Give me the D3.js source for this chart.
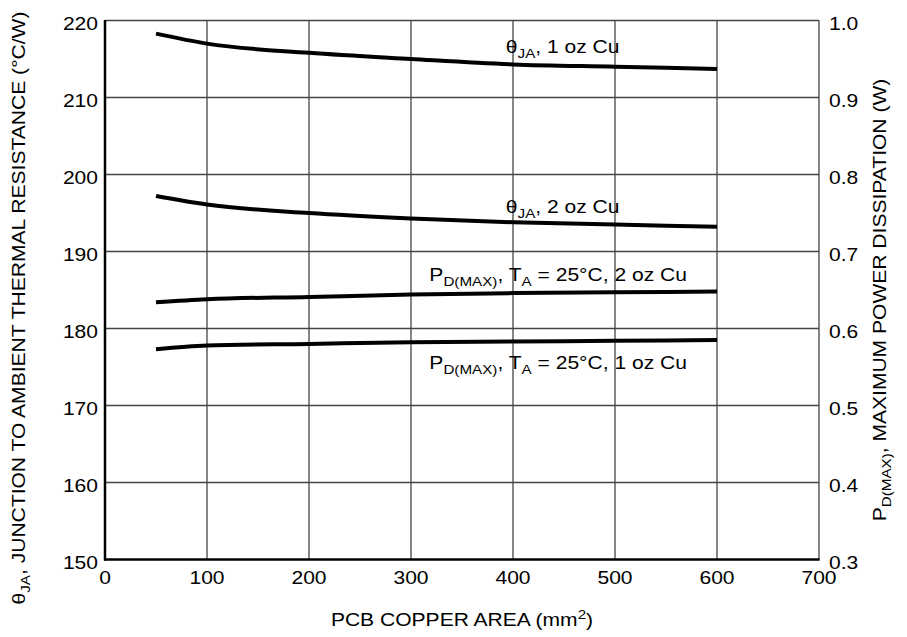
<!DOCTYPE html>
<html lang="en">
<head>
    <meta charset="UTF-8">
    <title>Thermal Resistance vs PCB Copper Area</title>
    <script src="https://cdn.jsdelivr.net/npm/d3@7"></script>
    <style>
        body { margin: 0; background: #fff; }
        text { font-family: "Liberation Sans", Arial, sans-serif; fill: #000; }
    </style>
</head>
<body>

<script>

    // copper area (mm^2)
    const area = [50, 100, 200, 300, 400, 500, 600];

    // theta JA (°C/W), left axis
    const theta_1oz = [218.3, 217.0, 215.8, 215.0, 214.3, 214.0, 213.7];
    const theta_2oz = [197.2, 196.1, 195.0, 194.3, 193.8, 193.5, 193.2];

    // max power dissipation (W), right axis
    const pd_2oz = [0.634, 0.638, 0.641, 0.644, 0.646, 0.647, 0.648];
    const pd_1oz = [0.573, 0.578, 0.580, 0.582, 0.583, 0.584, 0.585];

    const x_ticks = [0, 100, 200, 300, 400, 500, 600, 700];
    const left_ticks = [150, 160, 170, 180, 190, 200, 210, 220];
    const right_ticks = [0.3, 0.4, 0.5, 0.6, 0.7, 0.8, 0.9, 1.0];

    // curve labels: [main, sub, rest, x (mm^2), y (°C/W)]
    const labels = [
        ["\u03B8", "JA", ", 1 oz Cu", 393, 215.8],
        ["\u03B8", "JA", ", 2 oz Cu", 393, 195.0],
        ["P", "D(MAX)", ", T|A| = 25°C, 2 oz Cu", 318, 186.2],
        ["P", "D(MAX)", ", T|A| = 25°C, 1 oz Cu", 318, 174.8]
    ];

    const width = 907;
    const height = 637;
    const margin = {top: 20.5, right: 88, bottom: 77.5, left: 105};
    const stretch = 1.17; // the original lettering is wide

    const svg = d3.select("body").append("svg")
        .attr("width", width)
        .attr("height", height);

    const x = d3.scaleLinear().domain([0, 700]).range([margin.left, width - margin.right]);
    const y = d3.scaleLinear().domain([150, 220]).range([height - margin.bottom, margin.top]);
    const y2 = d3.scaleLinear().domain([0.3, 1.0]).range([height - margin.bottom, margin.top]);

    const at = (px, py, rot) => `translate(${px},${py})${rot ? " rotate(" + rot + ")" : ""} scale(${stretch},1)`;

    const grid = svg.append("g")
        .attr("stroke", "#444")
        .attr("stroke-width", 1.3);

    grid.selectAll(".vx")
        .data(x_ticks.slice(1))
        .join("line")
        .attr("x1", d => x(d)).attr("x2", d => x(d))
        .attr("y1", y(150)).attr("y2", y(220));

    grid.selectAll(".hy")
        .data(left_ticks.slice(1))
        .join("line")
        .attr("x1", x(0)).attr("x2", x(700))
        .attr("y1", d => y(d)).attr("y2", d => y(d));

    // thick left and bottom axis lines
    svg.append("line")
        .attr("x1", x(0)).attr("x2", x(0))
        .attr("y1", y(220) - 0.5).attr("y2", y(150) + 1)
        .attr("stroke", "#000").attr("stroke-width", 2.5);
    svg.append("line")
        .attr("x1", x(0) - 1).attr("x2", x(700) + 0.6)
        .attr("y1", y(150)).attr("y2", y(150))
        .attr("stroke", "#000").attr("stroke-width", 2.5);

    // tick labels
    svg.append("g")
        .attr("font-size", 18)
        .attr("text-anchor", "end")
        .selectAll("text")
        .data(left_ticks)
        .join("text")
        .attr("transform", d => at(x(0) - 7, y(d) + 9))
        .text(d => d);

    svg.append("g")
        .attr("font-size", 18)
        .attr("text-anchor", "start")
        .selectAll("text")
        .data(right_ticks)
        .join("text")
        .attr("transform", d => at(x(700) + 10, y2(d) + 9))
        .text(d => d.toFixed(1));

    svg.append("g")
        .attr("font-size", 18)
        .attr("text-anchor", "middle")
        .selectAll("text")
        .data(x_ticks)
        .join("text")
        .attr("transform", d => at(x(d), y(150) + 24))
        .text(d => d);

    // curves
    const line_left = d3.line().curve(d3.curveMonotoneX).x((d, i) => x(area[i])).y(d => y(d));
    const line_right = d3.line().curve(d3.curveMonotoneX).x((d, i) => x(area[i])).y(d => y2(d));

    svg.append("g")
        .attr("fill", "none")
        .attr("stroke", "#000")
        .attr("stroke-width", 4)
        .selectAll("path")
        .data([
            line_left(theta_1oz),
            line_left(theta_2oz),
            line_right(pd_2oz),
            line_right(pd_1oz)
        ])
        .join("path")
        .attr("d", d => d);

    // curve labels
    const lab = svg.append("g").attr("font-size", 18)
        .selectAll("text")
        .data(labels)
        .join("text")
        .attr("transform", d => at(x(d[3]), y(d[4])));

    lab.each(function (d) {
        const t = d3.select(this);
        t.append("tspan").text(d[0]);
        t.append("tspan").attr("font-size", 13).attr("dy", 5).text(d[1]);
        const parts = d[2].split("|");
        t.append("tspan").attr("dy", -5).text(parts[0]);
        if (parts.length > 1) {
            t.append("tspan").attr("font-size", 13).attr("dy", 5).text(parts[1]);
            t.append("tspan").attr("dy", -5).text(parts[2]);
        }
    });

    // axis titles
    const bottom_title = svg.append("text")
        .attr("font-size", 18)
        .attr("text-anchor", "middle")
        .attr("transform", at((x(0) + x(700)) / 2, 626));
    bottom_title.append("tspan").text("PCB COPPER AREA (mm");
    bottom_title.append("tspan").attr("font-size", 13).attr("dy", -7).text("2");
    bottom_title.append("tspan").attr("dy", 7).text(")");

    const left_title = svg.append("text")
        .attr("font-size", 18)
        .attr("text-anchor", "middle")
        .attr("transform", at(25, 308, -90));
    left_title.append("tspan").text("\u03B8");
    left_title.append("tspan").attr("font-size", 13).attr("dy", 5).text("JA");
    left_title.append("tspan").attr("dy", -5).text(", JUNCTION TO AMBIENT THERMAL RESISTANCE (°C/W)");

    const right_title = svg.append("text")
        .attr("font-size", 18)
        .attr("text-anchor", "middle")
        .attr("transform", at(886, 300, -90));
    right_title.append("tspan").text("P");
    right_title.append("tspan").attr("font-size", 13).attr("dy", 5).text("D(MAX)");
    right_title.append("tspan").attr("dy", -5).text(", MAXIMUM POWER DISSIPATION (W)");

</script>

</body>
</html>
